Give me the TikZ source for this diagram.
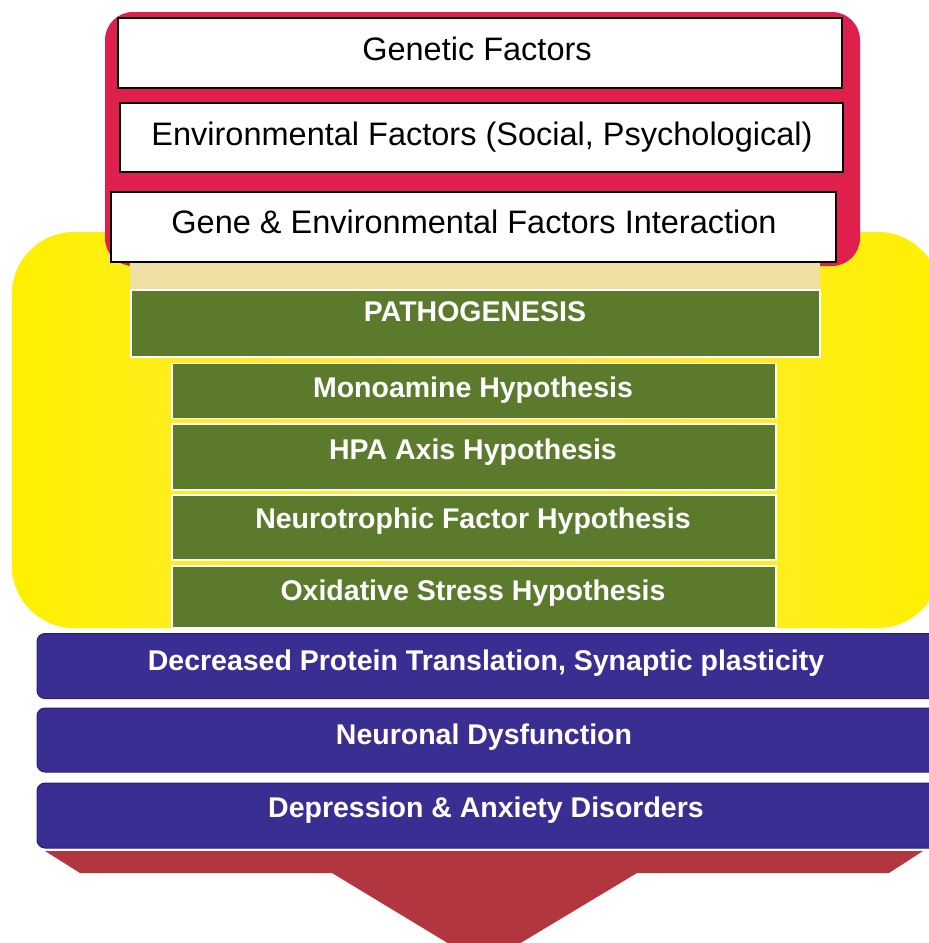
\documentclass[tikz,border=0pt]{standalone}
\usepackage{fontspec}
\setmainfont{Liberation Sans}
\usetikzlibrary{shadings}
\definecolor{topred}{HTML}{E0204C}
\definecolor{arrred}{HTML}{B2363F}
\definecolor{olive}{HTML}{5B7A2C}
\definecolor{indigo}{HTML}{3A2E93}
\definecolor{indigodark}{HTML}{2A1E7A}
\definecolor{brightyel}{HTML}{FFF000}
\definecolor{paleyel}{HTML}{FFE94A}
\definecolor{beige}{HTML}{F1E0A4}
\tikzset{
  whitebox/.style={draw=black, line width=2.6pt, fill=white, inner sep=0pt},
  whitetext/.style={font=\fontsize{32.5}{36}\selectfont, text=black, inner sep=0pt},
  greenbox/.style={draw=white, line width=1.2pt, fill=olive, inner sep=0pt},
  bluebox/.style={draw=indigodark, line width=1pt, fill=indigo, rounded corners=8pt, inner sep=0pt},
  boldtext/.style={font=\bfseries\fontsize{28.5}{32}\selectfont, text=white, inner sep=0pt},
}
\begin{document}
\begin{tikzpicture}[x=1pt,y=-1pt]
\useasboundingbox (0,0) rectangle (929,943);
\clip (0,0) rectangle (929,943);
% yellow background
\path[left color=brightyel, right color=brightyel, middle color=paleyel, rounded corners=62pt]
  (12,232) rectangle (940,628);
% red top panel
\fill[topred, rounded corners=28pt] (105,12) rectangle (860,266);
% beige strip
\fill[beige] (130,262) rectangle (820,292);
% white boxes
\node[whitebox, minimum width=724pt, minimum height=70pt] (gen) at (480,53) {};
\node[whitebox, minimum width=723pt, minimum height=69pt] (env) at (481.5,137.5) {};
\node[whitebox, minimum width=725pt, minimum height=70pt] (inter) at (473.5,227) {};
\node[whitetext] (gent) at (477,49) {Genetic Factors};
\node[whitetext] (envt) at (482,137) {Environmental Factors (Social, Psychological)};
\node[whitetext] (intert) at (474,222) {Gene \& Environmental Factors Interaction};
% green boxes
\node[greenbox, minimum width=689pt, minimum height=67pt] (path) at (475.5,323.5) {};
\node[greenbox, minimum width=604pt, minimum height=55pt] (mono) at (474,391) {};
\node[greenbox, minimum width=604pt, minimum height=66pt] (hpa) at (474,457) {};
\node[greenbox, minimum width=604pt, minimum height=65pt] (neuro) at (474,527.5) {};
\node[greenbox, minimum width=604pt, minimum height=62pt] (oxi) at (474,597) {};
\node[boldtext] (patht) at (475,312) {PATHOGENESIS};
\node[boldtext] (monot) at (473,390) {Monoamine Hypothesis};
\node[boldtext] (hpat) at (473,452) {HPA Axis Hypothesis};
\node[boldtext] (neurot) at (473,521) {Neurotrophic Factor Hypothesis};
\node[boldtext] (oxit) at (473,593) {Oxidative Stress Hypothesis};
% blue boxes
\node[bluebox, minimum width=900pt, minimum height=65pt] (prot) at (487,666) {};
\node[bluebox, minimum width=900pt, minimum height=64pt] (dys) at (487,740) {};
\node[bluebox, minimum width=900pt, minimum height=65pt] (dep) at (487,815.5) {};
\node[boldtext] (prott) at (486,663) {Decreased Protein Translation, Synaptic plasticity};
\node[boldtext] (dyst) at (484,737) {Neuronal Dysfunction};
\node[boldtext] (dept) at (486,810) {Depression \& Anxiety Disorders};
% red arrow
\fill[arrred] (45,851) -- (923,851) -- (889,873) -- (637,873) -- (484,965) -- (332,873) -- (80,873) -- cycle;
\end{tikzpicture}
\end{document}
